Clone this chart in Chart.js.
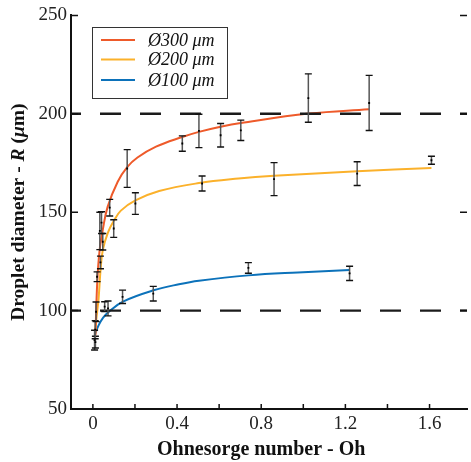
<!DOCTYPE html>
<html><head><meta charset="utf-8">
<script src="https://cdn.jsdelivr.net/npm/chart.js@4.4.1/dist/chart.umd.min.js"></script>
<style>html,body{margin:0;padding:0;background:#fff;overflow:hidden}</style>
</head><body>
<canvas id="c" width="471" height="462"></canvas>
<script>
// ---------- data ----------
const xMin = -0.104, xMax = 1.778;
const yMin = 50, yMax = 250;
const xTickValues = [0, 0.2, 0.4, 0.6, 0.8, 1.0, 1.2, 1.4, 1.6];
const xTickLabels = ['0', '', '0.4', '', '0.8', '', '1.2', '', '1.6'];
const yTickValues = [50, 100, 150, 200, 250];
const yTickLabels = ['50', '100', '150', '200', '250'];
const seriesLabels = ['Ø300 μm', 'Ø200 μm', 'Ø100 μm'];
const seriesColors = ['#EE5A2A', '#FBB12B', '#0C72BA'];
const refLineValues = [200, 100];

// fitted curves
const fitOh300 = [0.012, 0.021, 0.032, 0.047, 0.07, 0.118, 0.164, 0.212, 0.3, 0.425, 0.504, 0.607, 0.703, 1.026, 1.312];
const fitR300  = [87.5, 115, 130.7, 141, 152.7, 165.5, 173, 177.8, 183.3, 188.2, 190.8, 193.4, 195.3, 200.1, 202.3];
const fitOh200 = [0.01, 0.016, 0.027, 0.036, 0.047, 0.071, 0.099, 0.133, 0.202, 0.315, 0.504, 0.692, 0.861, 1.256, 1.609];
const fitR200  = [87, 95.2, 106, 120, 130.7, 139.5, 145.5, 150.8, 156, 160.8, 164.8, 167.1, 168.5, 170.8, 172.5];
const fitOh100 = [0.009, 0.025, 0.048, 0.08, 0.143, 0.288, 0.409, 0.504, 0.739, 0.974, 1.22];
const fitR100  = [87.6, 92, 96.3, 99.8, 104.6, 110.3, 113.4, 115.2, 117.9, 119.4, 120.6];

// measured points with error bars
const ptOh300 = [0.02, 0.033, 0.041, 0.08, 0.163, 0.425, 0.504, 0.607, 0.703, 1.024, 1.313];
const ptR300  = [117.2, 140.5, 144.7, 152.3, 172.2, 184.9, 191.3, 189.1, 191.6, 208, 205.5];
const ptE300  = [2.5, 9.5, 5.5, 4.2, 9.6, 3.9, 8.5, 6, 5.2, 12.3, 14];
const ptOh200 = [0.011, 0.015, 0.036, 0.047, 0.099, 0.202, 0.519, 0.861, 1.256, 1.609];
const ptR200  = [90.3, 99.4, 124.5, 135, 141.7, 154.4, 164.6, 166.8, 169.6, 176.4];
const ptE200  = [4.6, 5, 3.2, 4.2, 4.5, 5.5, 3.8, 8.4, 6, 2];
const ptOh100 = [0.008, 0.012, 0.056, 0.072, 0.141, 0.287, 0.739, 1.22];
const ptR100  = [85, 84, 102, 101.1, 107, 108.6, 121.7, 118.9];
const ptE100  = [5, 3, 2.5, 3.8, 3.4, 3.7, 2.7, 3.6];

// ---------- build ----------
const zip = (xs, ys) => xs.map((x, i) => ({x, y: ys[i]}));
const fitDs = (xs, ys, i) => ({
  label: seriesLabels[i], data: zip(xs, ys), showLine: true, pointRadius: 0,
  borderColor: seriesColors[i], borderWidth: 2, tension: 0.4, order: 2, isFit: true
});
const ptDs = (xs, ys, es) => ({
  data: zip(xs, ys), errs: es, showLine: false, pointRadius: 1.3, pointStyle: 'rect',
  pointBackgroundColor: '#000', pointBorderColor: '#000', pointBorderWidth: 0, order: 0
});
const refDs = v => ({
  data: [{x: xMin, y: v}, {x: xMax, y: v}], showLine: true, pointRadius: 0,
  borderColor: '#1b1b1b', borderWidth: 2.4, borderDash: [21, 19], borderDashOffset: 11, order: 1
});

const datasets = [
  fitDs(fitOh300, fitR300, 0), fitDs(fitOh200, fitR200, 1), fitDs(fitOh100, fitR100, 2),
  ...refLineValues.map(refDs),
  ptDs(ptOh300, ptR300, ptE300), ptDs(ptOh200, ptR200, ptE200), ptDs(ptOh100, ptR100, ptE100)
];

const FONT = "'Liberation Serif', 'Times New Roman', serif";

const errorBars = {
  id: 'errorBars',
  beforeDatasetDraw(chart, args) {
    const ds = chart.data.datasets[args.index];
    if (!ds.errs) return;
    const xs = chart.scales.x, ys = chart.scales.y, ctx = chart.ctx;
    ctx.save();
    ds.data.forEach((p, i) => {
      const e = ds.errs[i];
      const px = xs.getPixelForValue(p.x);
      const pt = ys.getPixelForValue(p.y + e), pb = ys.getPixelForValue(p.y - e);
      ctx.strokeStyle = '#555'; ctx.lineWidth = 1.5;
      ctx.beginPath(); ctx.moveTo(px, pt); ctx.lineTo(px, pb); ctx.stroke();
      ctx.strokeStyle = '#111'; ctx.lineWidth = 1.4;
      ctx.beginPath();
      ctx.moveTo(px - 3.5, pt); ctx.lineTo(px + 3.5, pt);
      ctx.moveTo(px - 3.5, pb); ctx.lineTo(px + 3.5, pb);
      ctx.stroke();
    });
    ctx.restore();
  }
};

const decor = {
  id: 'decor',
  afterDraw(chart) {
    const ctx = chart.ctx, xs = chart.scales.x, ys = chart.scales.y, ca = chart.chartArea;
    ctx.save();
    // inward ticks
    ctx.strokeStyle = '#111'; ctx.lineWidth = 1.5;
    ctx.beginPath();
    xTickValues.forEach(v => { const px = xs.getPixelForValue(v); ctx.moveTo(px, ca.bottom); ctx.lineTo(px, ca.bottom - 5); });
    yTickValues.forEach(v => {
      const py = ys.getPixelForValue(v);
      ctx.moveTo(ca.left, py); ctx.lineTo(ca.left + 7, py);
      ctx.moveTo(ca.right, py); ctx.lineTo(ca.right - 7, py);
    });
    ctx.stroke();

    // x title
    ctx.fillStyle = '#111';
    ctx.font = 'bold 20px ' + FONT;
    ctx.textAlign = 'center'; ctx.textBaseline = 'middle';
    ctx.fillText('Ohnesorge number - Oh', xs.getPixelForValue(0.8), 450);

    // y title (mixed styles)
    const parts = [
      ['bold ', 'Droplet diameter - '], ['italic bold ', 'R'], ['bold ', ' ('], ['italic bold ', 'μ'], ['bold ', 'm)']
    ];
    const fs = '19.5px ';
    let total = 0;
    parts.forEach(p => { ctx.font = p[0] + fs + FONT; total += ctx.measureText(p[1]).width; });
    ctx.translate(19, ys.getPixelForValue(150));
    ctx.rotate(-Math.PI / 2);
    ctx.textAlign = 'left';
    let cx = -total / 2;
    parts.forEach(p => { ctx.font = p[0] + fs + FONT; ctx.fillText(p[1], cx, 0); cx += ctx.measureText(p[1]).width; });
    ctx.setTransform(1, 0, 0, 1, 0, 0);

    // legend
    const lx = 92, ly = 27, lw = 135, lh = 71;
    ctx.fillStyle = '#fff'; ctx.fillRect(lx, ly, lw, lh);
    ctx.strokeStyle = '#333'; ctx.lineWidth = 1; ctx.strokeRect(lx + 0.5, ly + 0.5, lw, lh);
    const rows = [40, 59.5, 80];
    chart.data.datasets.filter(d => d.isFit).forEach((d, i) => {
      ctx.strokeStyle = d.borderColor; ctx.lineWidth = 2;
      ctx.beginPath(); ctx.moveTo(101, rows[i]); ctx.lineTo(135, rows[i]); ctx.stroke();
      ctx.fillStyle = '#111'; ctx.font = 'italic 18px ' + FONT; ctx.textAlign = 'left'; ctx.textBaseline = 'middle';
      ctx.fillText(d.label, 148, rows[i] + 1);
    });
    ctx.restore();
  }
};

new Chart(document.getElementById('c'), {
  type: 'scatter',
  data: { datasets },
  plugins: [errorBars, decor],
  options: {
    responsive: false, animation: false, devicePixelRatio: 1,
    layout: { padding: { top: 15, right: 0, bottom: 0, left: 0 } },
    plugins: { legend: { display: false }, tooltip: { enabled: false } },
    scales: {
      x: {
        type: 'linear', min: xMin, max: xMax,
        afterBuildTicks: s => { s.ticks = xTickValues.map(v => ({ value: v })); },
        afterFit: s => { s.height = 53; },
        ticks: { callback: (v, i) => xTickLabels[i], font: { family: FONT, size: 19 }, color: '#222', padding: 4, maxRotation: 0, autoSkip: false },
        grid: { display: false, drawTicks: false },
        border: { display: true, color: '#111', width: 2 }
      },
      y: {
        type: 'linear', min: yMin, max: yMax,
        afterBuildTicks: s => { s.ticks = yTickValues.map(v => ({ value: v })); },
        afterFit: s => { s.width = 71; },
        ticks: { callback: (v, i) => yTickLabels[i], font: { family: FONT, size: 19 }, color: '#222', padding: 4, autoSkip: false },
        grid: { display: false, drawTicks: false },
        border: { display: true, color: '#111', width: 2 }
      }
    }
  }
});
</script>
</body></html>
